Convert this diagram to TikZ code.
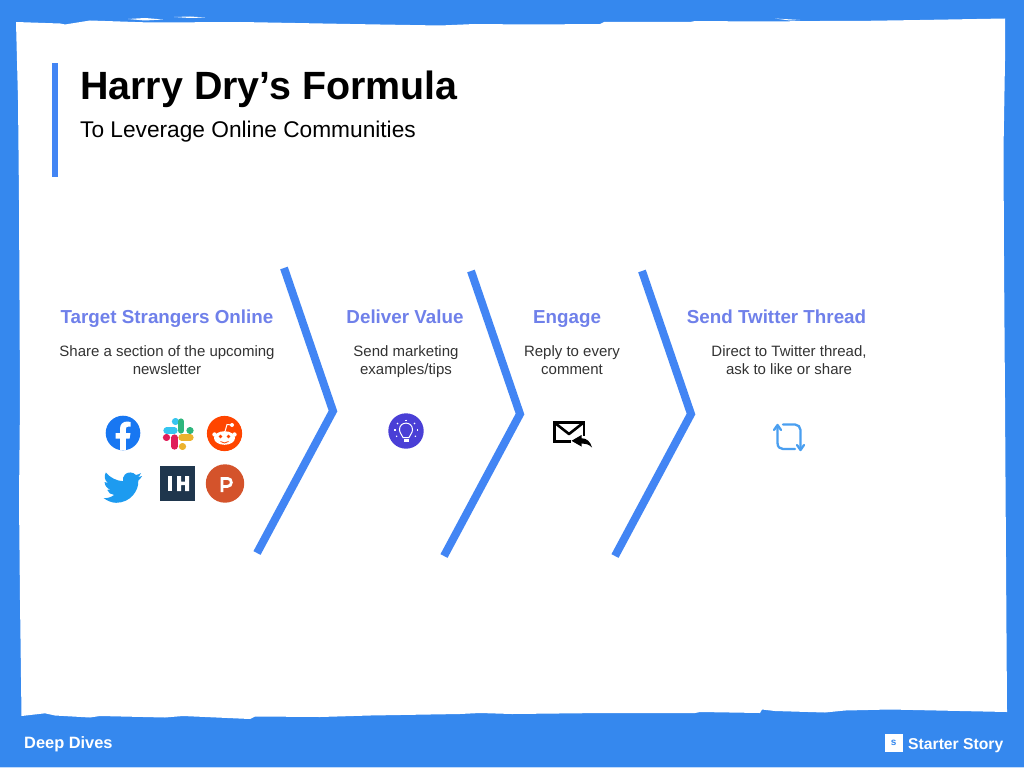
\documentclass[tikz,border=0pt]{standalone}
\usepackage{fontspec}
\setmainfont{Liberation Sans}
\definecolor{frame}{HTML}{3588EE}
\definecolor{chev}{HTML}{4285F4}
\definecolor{head}{HTML}{6F80EA}
\definecolor{body}{HTML}{333333}
\definecolor{fb}{HTML}{1877F2}
\definecolor{sb}{HTML}{36C5F0}
\definecolor{sg}{HTML}{2EB67D}
\definecolor{sy}{HTML}{ECB22E}
\definecolor{sr}{HTML}{E01E5A}
\definecolor{rd}{HTML}{FF4500}
\definecolor{tw}{HTML}{1D9BF0}
\definecolor{ih}{HTML}{1F364D}
\definecolor{ph}{HTML}{D4532B}
\definecolor{bulbc}{HTML}{4A3FD6}
\definecolor{rt}{HTML}{4A9FF0}
\tikzset{x=1pt,y=-1pt,
 chevron/.style={draw=chev,line width=8pt,line join=miter,miter limit=10},
 heading/.style={font=\fontsize{18.8}{22}\selectfont\bfseries,text=head,inner sep=0pt,anchor=base},
 bodytext/.style={font=\fontsize{15}{18}\selectfont,text=body,align=center,inner sep=0pt},
 rtline/.style={rt,line width=2.3pt,line cap=round,line join=round}}
\newcommand{\tline}[1]{\strut #1}
\begin{document}
\begin{tikzpicture}
\useasboundingbox (0,0) rectangle (1024,768);
\fill[frame] (0,0) rectangle (1024,768);
\fill[frame!30!white] (0,766.8) rectangle (1024,768);
% rough paper
\fill[white] (16,22) -- (60,23.5) -- (65,24.5) -- (90,20.5) -- (150,22.5) -- (240,22) -- (350,24) -- (440,25.5) -- (475,24) -- (530,24.5) -- (600,24) -- (604,22) -- (690,22) -- (695,21) -- (760,21.5) -- (820,21) -- (855,21) -- (920,20) -- (1005,18.5)
 -- (1005,60) -- (1003.5,150) -- (1004,260) -- (1005,400) -- (1006,560) -- (1007,712)
 -- (890,709.5) -- (845,710.5) -- (825,712.5) -- (775,711) -- (762,709.5) -- (760,713) -- (700,712) -- (695,713) -- (604,713) -- (512,714) -- (480,713) -- (460,714) -- (370,715.5) -- (320,717) -- (255,716.5) -- (250,719) -- (183,716) -- (165,717.5) -- (100,716) -- (90,717.5) -- (55,715.5) -- (45,713.3) -- (21.5,716)
 -- (20,600) -- (19,500) -- (20,400) -- (19,200) -- (18,100) -- cycle;
\fill[white] (128,19) -- (145,18) -- (163,19.5) -- (145,20.5) -- cycle;
\fill[white] (174,17) -- (190,16.5) -- (205,17.5) -- (190,18) -- cycle;
\fill[white] (775,18.5) -- (800,20) -- (790,20.5) -- cycle;
% title block
\fill[chev] (52,63) rectangle (58,177);
\node[anchor=base west,inner sep=0pt,font=\fontsize{39.4}{44}\selectfont\bfseries] (title) at (80,99) {Harry Dry’s Formula};
\node[anchor=base west,inner sep=0pt,font=\fontsize{22.7}{26}\selectfont] (subtitle) at (80,137) {To Leverage Online Communities};
% chevrons
\draw[chevron] (284,268) -- (333,411) -- (257,553);
\draw[chevron] (471,271) -- (520,414) -- (444,556);
\draw[chevron] (642,271) -- (691,414) -- (615,556);
% columns
\node[heading] (h1) at (167,323.5) {Target Strangers Online};
\node[bodytext] (b1) at (167,362) {\tline{Share a section of the upcoming}\\\tline{newsletter}};
\node[heading] (h2) at (405,323.5) {Deliver Value};
\node[bodytext] (b2) at (406,362) {\tline{Send marketing}\\\tline{examples/tips}};
\node[heading] (h3) at (567,323.5) {Engage};
\node[bodytext] (b3) at (572,362) {\tline{Reply to every}\\\tline{comment}};
\node[heading] (h4) at (776.5,323.5) {Send Twitter Thread};
\node[bodytext] (b4) at (789,362) {\tline{Direct to Twitter thread,}\\\tline{ask to like or share}};
% facebook
\fill[fb] (123,433) circle[radius=17.3];
\fill[white] (120,450) -- (120,438.5) -- (115.5,438.5) -- (115.5,433) -- (120,433) -- (120,429) .. controls (120,424) and (123,421.5) .. (127.5,421.5) -- (130.5,422) -- (130.5,426.5) -- (128.5,426.5) .. controls (126.5,426.5) and (125.8,427.5) .. (125.8,429.5) -- (125.8,433) -- (130.5,433) -- (129.6,438.5) -- (125.8,438.5) -- (125.8,450) -- cycle;
% slack
\begin{scope}[line width=6.2pt,line cap=round]
\draw[sb] (166.5,430.5) -- (174.5,430.5); \draw[sb] (175,421.5) -- (176,421.5);
\draw[sg] (181,421.5) -- (181,430.5); \draw[sg] (190.5,430.5) -- (189.5,430.5);
\draw[sy] (181.5,437.5) -- (190.5,437.5); \draw[sy] (182,446.5) -- (183,446.5);
\draw[sr] (174.5,437.5) -- (174.5,446.5); \draw[sr] (166,437.5) -- (167,437.5);
\end{scope}
% reddit
\fill[rd] (224.5,433.5) circle[radius=17.6];
\fill[white] (224.5,438) ellipse[x radius=10.5,y radius=6.8];
\fill[white] (214.5,434.5) circle[radius=2.2] (234.5,434.5) circle[radius=2.2] (232,425) circle[radius=2];
\draw[white,line width=1pt] (225,431.5) -- (227,424.5) -- (232,425);
\fill[rd] (220.5,436.5) circle[radius=1.9] (228.5,436.5) circle[radius=1.9];
\draw[rd,line width=.8pt] (220.5,441.5) .. controls (223,443.5) and (226,443.5) .. (228.5,441.5);
% twitter
\fill[tw] (142,476) .. controls (140.5,476.8) and (139,477.2) .. (137.5,477.4) .. controls (139,476.4) and (140.4,475) .. (141,473) .. controls (139.5,474) and (137.8,474.6) .. (136,475) .. controls (133,471.8) and (127.8,471.6) .. (125,474.4) .. controls (123.2,476.2) and (122.6,478.8) .. (123.1,481.2) .. controls (116.5,480.9) and (110,477.6) .. (105.8,472.5) .. controls (103.8,476) and (104.6,480.6) .. (108,483) .. controls (106.8,483) and (105.6,482.6) .. (104.6,482) .. controls (104.6,485.6) and (107.2,488.8) .. (110.8,489.6) .. controls (109.6,490) and (108.4,490) .. (107.2,489.8) .. controls (108.2,492.8) and (111,494.8) .. (114.2,494.9) .. controls (111,497.4) and (107,498.5) .. (103.5,498) .. controls (107,500.4) and (111.2,502.8) .. (116,502.8) .. controls (130.5,502.8) and (139,490.5) .. (138.3,480.5) .. controls (139.8,479.4) and (141,477.8) .. (142,476) -- cycle;
% indie hackers
\fill[ih] (160,466) rectangle (195,501);
\fill[white] (168,476) rectangle (172.3,491);
\fill[white] (177,476) rectangle (181,491) (185,476) rectangle (189,491) (177,481.6) rectangle (189,485.2);
% product hunt
\fill[ph] (225,483.5) circle[radius=19.2];
\draw[white,line width=2.8pt] (222,492) -- (222,478.4) -- (227.5,478.4) .. controls (232.6,478.4) and (232.6,486.4) .. (227.5,486.4) -- (222,486.4);
% bulb
\fill[bulbc] (406,431) circle[radius=17.7];
\draw[white,line width=1pt] (403,437.5) .. controls (402,434) and (399.5,433.5) .. (399.5,429.5) .. controls (399.5,421) and (412.5,421) .. (412.5,429.5) .. controls (412.5,433.5) and (410,434) .. (409,437.5) -- cycle;
\fill[white] (403.5,439) rectangle (408.5,441.5);
\foreach \a/\b/\c/\d in {406/419.5/406/421,397/423/398/424,415/423/414/424,394/430/395.5/430,418/430/416.5/430,396/436.5/397.2/436,416/436.5/414.8/436}
  \draw[white,line width=1.1pt] (\a,\b) -- (\c,\d);
% mail
\draw[black,line width=2.6pt,line join=miter] (571,441.5) -- (554.3,441.5) -- (554.3,422.3) -- (584,422.3) -- (584,436);
\draw[black,line width=2.6pt,line join=round] (555,423) -- (569,434) -- (583,423);
\fill[black] (571.5,440.8) -- (581.5,435) -- (581.5,438.2) .. controls (587,438.2) and (590.5,442) .. (592,447.5) .. controls (588.5,444) and (585,443.4) .. (581.5,443.4) -- (581.5,446.5) -- cycle;
% retweet
\draw[rtline] (777.5,426) -- (777.5,443) .. controls (777.5,447) and (780,449) .. (783,449) -- (795,449);
\draw[rtline] (783,424.5) -- (795,424.5) .. controls (798,424.5) and (800.5,427) .. (800.5,430) -- (800.5,448);
\draw[rtline] (774,430) -- (777.5,425) -- (781,430);
\draw[rtline] (797,445) -- (800.5,450) -- (804,445);
% footer
\node[anchor=base west,inner sep=0pt,text=white,font=\fontsize{16.4}{20}\selectfont\bfseries] (deep) at (24,748) {Deep Dives};
\fill[white] (884.5,734) rectangle (903,752);
\node[text=frame,inner sep=0pt,font=\fontsize{10}{10}\selectfont\bfseries] (s) at (893.7,743) {s};
\node[anchor=base west,inner sep=0pt,text=white,font=\fontsize{15.7}{20}\selectfont\bfseries] (ss) at (908,749) {Starter Story};
\end{tikzpicture}
\end{document}
